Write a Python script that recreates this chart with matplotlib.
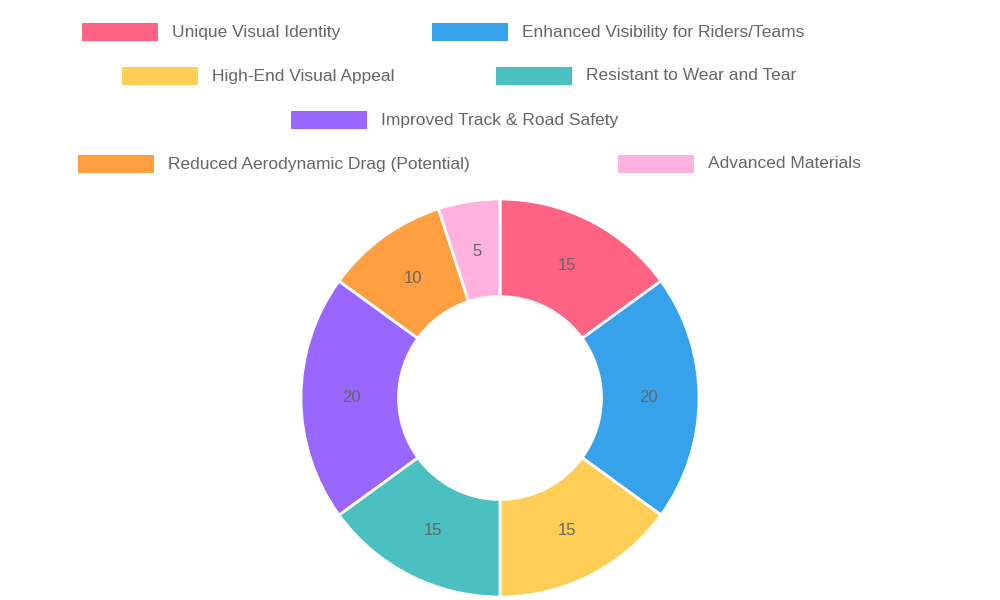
import matplotlib
matplotlib.use("Agg")
import matplotlib.pyplot as plt
from matplotlib.patches import Rectangle

categories = ["Unique Visual Identity", "Enhanced Visibility for Riders/Teams",
              "High-End Visual Appeal", "Resistant to Wear and Tear",
              "Improved Track & Road Safety", "Reduced Aerodynamic Drag (Potential)",
              "Advanced Materials"]
values = [15, 20, 15, 15, 20, 10, 5]
colors = ["#FF6384", "#36A2EB", "#FFCE56", "#4BC0C0", "#9966FF", "#FF9F40", "#FFB1DF"]

plt.rcParams['font.family'] = ['Liberation Sans', 'DejaVu Sans']
fig = plt.figure(figsize=(10, 6), dpi=100)
W, H = 1000, 600
cx, cy, R = 500, 398, 199
ax = fig.add_axes([(cx - R) / W, (H - cy - R) / H, 2 * R / W, 2 * R / H])
wedges, _ = ax.pie(values, colors=colors, startangle=90, counterclock=False, radius=1,
                   wedgeprops=dict(width=0.49, edgecolor="white", linewidth=2))
import numpy as np
tot = sum(values)
ang = 90.0
for v in values:
    mid = np.deg2rad(ang - v / tot * 360 / 2)
    ax.text(0.745 * np.cos(mid), 0.745 * np.sin(mid), str(v), ha="center", va="center",
            fontsize=12, color="#666666")
    ang -= v / tot * 360
ax.set_xlim(-1, 1); ax.set_ylim(-1, 1); ax.set_aspect("equal"); ax.axis("off")

# legend layout (pixel positions: box left, row center y)
legend_pos = [(82, 32), (432, 32), (122, 76), (496, 76), (291, 120), (78, 164), (618, 164)]
for (bx, by), lab, c in zip(legend_pos, categories, colors):
    fig.patches.append(Rectangle((bx / W, (H - by - 9) / H), 76 / W, 18 / H,
                                 transform=fig.transFigure, facecolor=c, edgecolor="none"))
    fig.text((bx + 90) / W, (H - by) / H, lab, ha="left", va="center",
             fontsize=12.5, color="#666666")

fig.savefig("out.png", dpi=100)
